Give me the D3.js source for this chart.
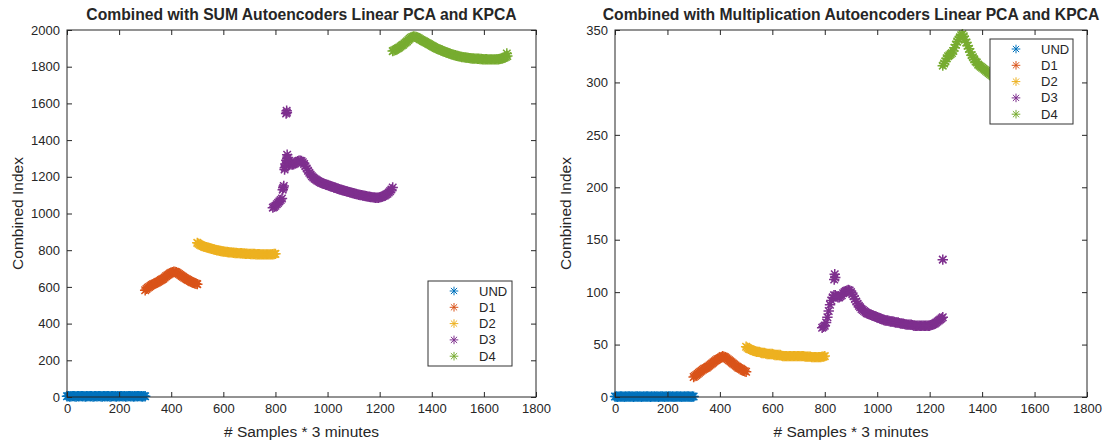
<!DOCTYPE html>
<html>
<head>
<meta charset="utf-8">
<script src="https://cdn.jsdelivr.net/npm/d3@7"></script>
<style>
  body { margin: 0; background: #fff; }
  svg { display: block; }
  text { font-family: "Liberation Sans", Arial, Helvetica, sans-serif; fill: #262626; }
</style>
</head>
<body>
<svg id="chart" width="1105" height="440"></svg>
<script>
// ---- data ---------------------------------------------------------------
const seriesNames = ["UND", "D1", "D2", "D3", "D4"];
const seriesStart = [0, 300, 500, 790, 1250];   // first sample of each class
const sampleStep = 5;                            // samples between stored values
const xTicks = [0, 200, 400, 600, 800, 1000, 1200, 1400, 1600, 1800];
const sumYTicks = [0, 200, 400, 600, 800, 1000, 1200, 1400, 1600, 1800, 2000];
const mulYTicks = [0, 50, 100, 150, 200, 250, 300, 350];

// combined index, SUM rule
const sumUND = [4, 5, 3, 4, 5, 5, 4, 3, 5, 4, 5, 5, 4, 5, 3, 4, 5, 5, 4, 5,
                3, 4, 5, 4, 5, 5, 4, 3, 5, 4, 5, 4, 5, 3, 4, 5, 5, 4, 3, 5,
                4, 5, 5, 4, 5, 3, 4, 5, 5, 4, 5, 3, 4, 5, 4, 5, 5, 4, 3, 5, 4];
const sumD1 = [582, 589, 595, 600, 605, 610, 614, 617, 620, 624, 628, 632, 637, 641, 645, 651, 658, 663, 668, 673,
               677, 680, 683, 682, 680, 675, 670, 665, 660, 655, 650, 646, 642, 638, 634, 630, 626, 623, 620, 617, 615];
const sumD2 = [840, 835, 830, 826, 823, 820, 818, 816, 814, 812,
               810, 808, 806, 804, 802, 800, 799, 797, 796, 794,
               793, 792, 791, 790, 789, 788, 788, 787, 786, 785,
               785, 784, 784, 783, 783, 782, 782, 781, 781, 780,
               780, 779, 779, 779, 779, 778, 778, 778, 778, 777,
               777, 777, 777, 777, 777, 777, 777, 777, 778, 779, 780];
const sumD3 = [1032, 1036, 1042, 1050, 1058, 1066, 1074, 1082, 1140, 1240,
               1260, 1300, 1275, 1270, 1268, 1267, 1268, 1273, 1280, 1285,
               1288, 1288, 1286, 1279, 1270, 1258, 1245, 1233, 1222, 1212,
               1203, 1196, 1190, 1185, 1180, 1176, 1172, 1168, 1165, 1162,
               1160, 1157, 1155, 1152, 1150, 1147, 1145, 1142, 1140, 1137,
               1135, 1132, 1130, 1128, 1126, 1124, 1122, 1120, 1118, 1116,
               1114, 1112, 1110, 1108, 1106, 1104, 1102, 1101, 1100, 1098,
               1097, 1095, 1094, 1092, 1091, 1090, 1089, 1088, 1087, 1086,
               1086, 1086, 1088, 1090, 1092, 1095, 1098, 1103, 1108, 1114,
               1122, 1131, 1142];
const sumD3JumpX = [828, 832, 836, 838, 842, 845, 846, 848, 841, 843, 844];
const sumD3JumpY = [1130, 1150, 1250, 1270, 1290, 1320, 1290, 1305, 1545, 1560, 1550];
const sumD4 = [1885, 1888, 1892, 1896, 1900, 1905, 1910, 1915, 1920, 1926,
               1932, 1938, 1945, 1952, 1958, 1962, 1965, 1964, 1962, 1959,
               1955, 1950, 1946, 1942, 1938, 1934, 1930, 1926, 1922, 1918,
               1914, 1910, 1906, 1902, 1899, 1896, 1893, 1890, 1887, 1884,
               1881, 1878, 1876, 1873, 1871, 1868, 1866, 1864, 1862, 1860,
               1858, 1856, 1855, 1853, 1852, 1851, 1850, 1849, 1848, 1847,
               1846, 1845, 1845, 1844, 1844, 1843, 1843, 1842, 1842, 1841,
               1841, 1841, 1841, 1840, 1840, 1840, 1840, 1840, 1840, 1840,
               1841, 1841, 1842, 1843, 1845, 1847, 1850, 1854, 1858];
const sumD4EndX = [1688];
const sumD4EndY = [1872];

// combined index, multiplication rule
const mulUND = [0.4, 0.5, 0.3, 0.4, 0.5, 0.5, 0.4, 0.3, 0.5, 0.4, 0.5, 0.5, 0.4, 0.5, 0.3, 0.4, 0.5, 0.5, 0.4, 0.5,
                0.3, 0.4, 0.5, 0.4, 0.5, 0.5, 0.4, 0.3, 0.5, 0.4, 0.5, 0.4, 0.5, 0.3, 0.4, 0.5, 0.5, 0.4, 0.3, 0.5,
                0.4, 0.5, 0.5, 0.4, 0.5, 0.3, 0.4, 0.5, 0.5, 0.4, 0.5, 0.3, 0.4, 0.5, 0.4, 0.5, 0.5, 0.4, 0.3, 0.5, 0.4];
const mulD1 = [19, 20, 21, 22, 23, 24, 25, 26, 27, 27.5, 28, 29, 30, 31, 32, 33, 34, 35, 36, 36.5,
               37, 38, 39, 38.5, 38, 37, 36, 35, 34, 33, 32, 31, 30, 29, 28, 27.5, 27, 26, 25, 24.5, 24];
const mulD2 = [48, 47, 46, 45.5, 45, 44.5, 44, 43.5, 43, 43,
               43, 42.5, 42, 42, 42, 41.5, 41, 41, 41, 41,
               41, 40.5, 40, 40, 40, 40, 40, 39.5, 39, 39,
               39, 39, 39, 39, 39, 39, 39, 39, 39, 39,
               39, 39, 39, 39, 39, 38.5, 38.5, 38.5, 38.5, 38.5,
               38, 38, 38, 38, 38, 38, 38, 38, 38.5, 38.5, 39];
const mulD3 = [66, 67, 68, 71, 76, 82, 88, 92, 95, 97,
               97, 96, 95, 95, 96, 97, 99, 100, 101, 101.5,
               102, 101.5, 100, 98, 96, 93.5, 91, 89, 87, 85.5,
               84, 83, 82, 81, 80, 79.5, 79, 78.5, 78, 77.5,
               77, 76.5, 76, 75.5, 75, 74.5, 74, 73.5, 73, 73,
               73, 72.5, 72, 72, 72, 71.5, 71, 71, 71, 70.5,
               70, 70, 70, 69.5, 69, 69, 69, 69, 69, 68.5,
               68, 68, 68, 68, 68, 68, 68, 68, 68, 68,
               68, 68, 68, 68.5, 69, 69.5, 70, 71, 72, 73,
               74, 75, 76];
const mulD3JumpX = [836, 838, 840, 1250];
const mulD3JumpY = [112, 117, 114, 131];
const mulD4 = [316, 318, 320, 323, 325, 326, 327, 328, 330, 333,
               336, 339, 341, 343, 345, 346, 344, 341, 338, 335,
               332, 329, 326, 324, 322, 320, 319, 317, 316, 315,
               314, 313, 312, 311, 310, 309, 308, 307, 306, 305.5,
               305, 304, 303, 302.5, 302, 301.5, 301, 300.5, 300, 300,
               299.5, 299, 299, 298.5, 298.5, 298, 298, 298, 297.5, 297.5,
               297, 297, 297, 297, 297, 297, 297, 297, 297, 297,
               297, 297, 297, 297, 297, 297, 297, 297, 297, 297,
               297.5, 298, 298, 298.5, 299, 300, 301, 302, 303];

// ---- styles -------------------------------------------------------------
const colors = ["#0072BD", "#D95319", "#EDB120", "#7E2F8E", "#77AC30"];
const ink = "#262626";
const markerR = 5.2;     // plotted marker arm length
const markerW = 1.5;     // plotted marker stroke width
const legendR = 4.3;     // legend marker arm length

const svg = d3.select("#chart");

// MATLAB-style '*' marker: a plus and a cross overlaid
function starPath(r) {
  const d = r * 0.72;
  return `M${-r},0H${r}M0,${-r}V${r}M${-d},${-d}L${d},${d}M${-d},${d}L${d},${-d}`;
}

function toPoints(start, values, extraX, extraY) {
  const pts = values.map((v, i) => [start + i * sampleStep, v]);
  if (extraX) extraX.forEach((x, i) => pts.push([x, extraY[i]]));
  return pts;
}

function panel(opts) {
  const { left, right, top, bottom, yMax, yTicks, title, series, legend } = opts;
  const x = d3.scaleLinear().domain([0, 1800]).range([left, right]);
  const y = d3.scaleLinear().domain([0, yMax]).range([bottom, top]);
  const g = svg.append("g");

  // points
  series.forEach((pts, si) => {
    g.append("g")
      .attr("fill", "none")
      .attr("stroke", colors[si])
      .attr("stroke-width", markerW)
      .selectAll("path")
      .data(pts)
      .join("path")
      .attr("transform", d => `translate(${x(d[0])},${y(d[1])})`)
      .attr("d", starPath(markerR));
  });

  // axes (ticks pointing inward on all four sides)
  const styleAxis = sel => {
    sel.attr("font-family", null).attr("font-size", null);
    sel.selectAll(".domain").remove();
    sel.selectAll(".tick line").attr("stroke", ink);
    sel.selectAll(".tick text").style("font-size", "13px").attr("fill", ink);
  };
  g.append("g").attr("transform", `translate(0,${bottom})`)
    .call(d3.axisBottom(x).tickValues(xTicks).tickFormat(d3.format("d")).tickSize(-5).tickPadding(7))
    .call(styleAxis);
  g.append("g").attr("transform", `translate(0,${top})`)
    .call(d3.axisTop(x).tickValues(xTicks).tickFormat("").tickSize(-5))
    .call(styleAxis);
  g.append("g").attr("transform", `translate(${left},0)`)
    .call(d3.axisLeft(y).tickValues(yTicks).tickFormat(d3.format("d")).tickSize(-5).tickPadding(7))
    .call(styleAxis);
  g.append("g").attr("transform", `translate(${right},0)`)
    .call(d3.axisRight(y).tickValues(yTicks).tickFormat("").tickSize(-5))
    .call(styleAxis);

  g.append("rect")
    .attr("x", left).attr("y", top)
    .attr("width", right - left).attr("height", bottom - top)
    .attr("fill", "none").attr("stroke", ink).attr("stroke-width", 1);

  // titles and labels
  g.append("text")
    .attr("x", (left + right) / 2).attr("y", top - 10)
    .attr("text-anchor", "middle")
    .style("font-size", "15.7px").style("font-weight", "bold")
    .attr("fill", "#000")
    .text(title);
  g.append("text")
    .attr("x", (left + right) / 2).attr("y", 437)
    .attr("text-anchor", "middle")
    .style("font-size", "15.5px")
    .text("# Samples * 3 minutes");
  g.append("text")
    .attr("transform", `translate(${left - 44},${(top + bottom) / 2}) rotate(-90)`)
    .attr("text-anchor", "middle")
    .style("font-size", "15.5px")
    .text("Combined Index");

  // legend
  const lg = g.append("g").attr("transform", `translate(${legend.x},${legend.y})`);
  lg.append("rect")
    .attr("width", legend.w).attr("height", legend.h)
    .attr("fill", "#fff").attr("stroke", "#333").attr("stroke-width", 1);
  seriesNames.forEach((name, i) => {
    const cy = 10 + i * 16.3;
    lg.append("path")
      .attr("transform", `translate(26,${cy})`)
      .attr("d", starPath(legendR))
      .attr("fill", "none").attr("stroke", colors[i]).attr("stroke-width", 1);
    lg.append("text")
      .attr("x", 51).attr("y", cy + 4.5)
      .style("font-size", "13px")
      .text(name);
  });
}

panel({
  left: 67, right: 536, top: 30, bottom: 397,
  yMax: 2000, yTicks: sumYTicks,
  title: "Combined with SUM Autoencoders Linear PCA and KPCA",
  series: [
    toPoints(seriesStart[0], sumUND),
    toPoints(seriesStart[1], sumD1),
    toPoints(seriesStart[2], sumD2),
    toPoints(seriesStart[3], sumD3, sumD3JumpX, sumD3JumpY),
    toPoints(seriesStart[4], sumD4, sumD4EndX, sumD4EndY)
  ],
  legend: { x: 428, y: 281, w: 84, h: 85 }
});

panel({
  left: 615, right: 1087, top: 30, bottom: 397,
  yMax: 350, yTicks: mulYTicks,
  title: "Combined with Multiplication Autoencoders Linear PCA and KPCA",
  series: [
    toPoints(seriesStart[0], mulUND),
    toPoints(seriesStart[1], mulD1),
    toPoints(seriesStart[2], mulD2),
    toPoints(seriesStart[3], mulD3, mulD3JumpX, mulD3JumpY),
    toPoints(seriesStart[4], mulD4)
  ],
  legend: { x: 990, y: 39, w: 83, h: 85 }
});
</script>
</body>
</html>
